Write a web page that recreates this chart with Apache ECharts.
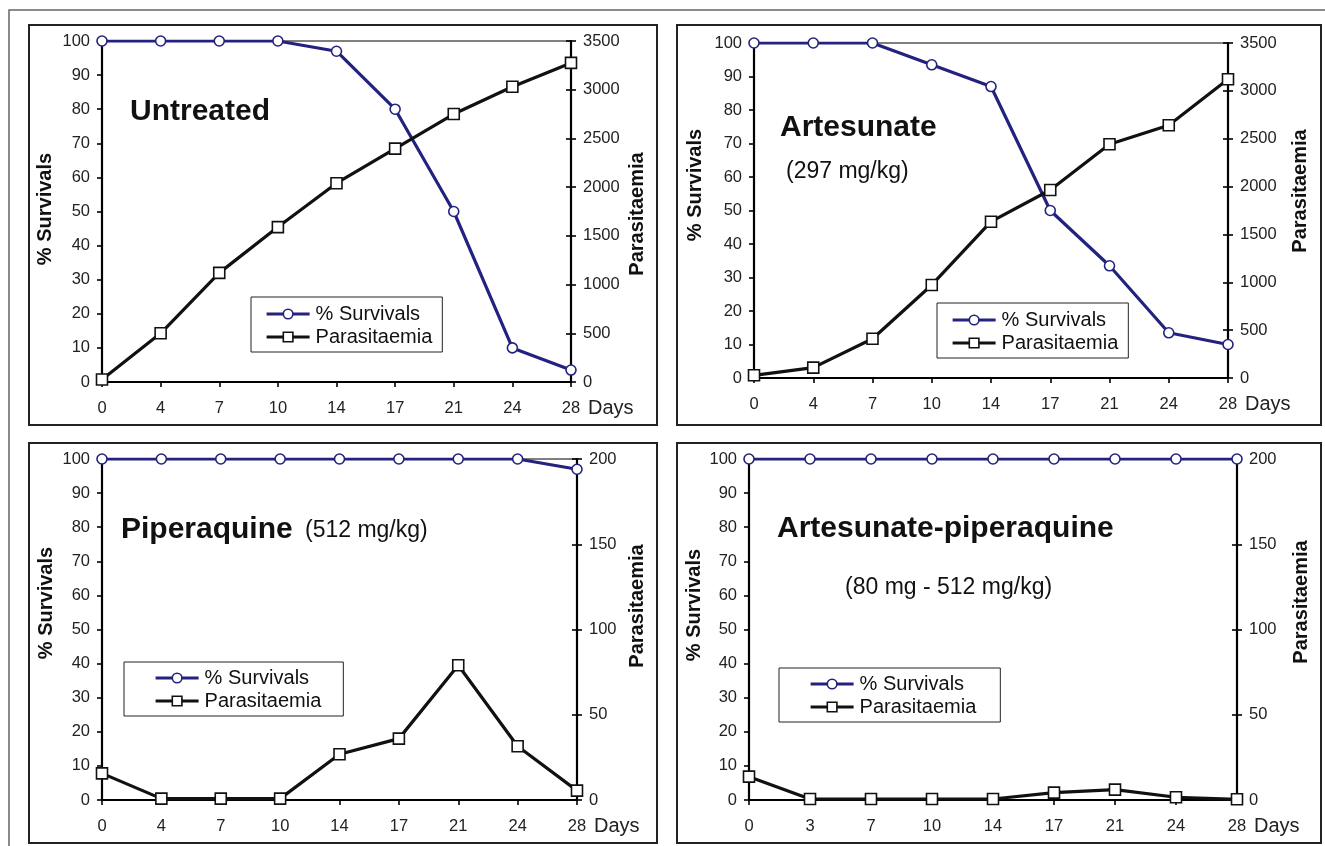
<!DOCTYPE html>
<html>
<head>
<meta charset="utf-8">
<title>Survival and parasitaemia</title>
<script src="https://cdn.jsdelivr.net/npm/echarts@6/dist/echarts.min.js"></script>
<style>
  html, body { margin: 0; padding: 0; background: #fff; }
  #chart { width: 1325px; height: 846px; }
</style>
</head>
<body>
<div id="chart"></div>
<script>
// days sampled (panel 4 has day 3 instead of day 4)
const daysA = ['0', '4', '7', '10', '14', '17', '21', '24', '28']
const daysB = ['0', '3', '7', '10', '14', '17', '21', '24', '28']

// % survivals (left axis)
const untreatedSurv = [100, 100, 100, 100, 97, 80, 50, 10, 3.5]
const artesunateSurv = [100, 100, 100, 93.5, 87, 50, 33.5, 13.5, 10]
const piperaquineSurv = [100, 100, 100, 100, 100, 100, 100, 100, 97]
const comboSurv = [100, 100, 100, 100, 100, 100, 100, 100, 100]

// parasitaemia (right axis)
const untreatedPara = [25, 500, 1120, 1590, 2040, 2395, 2750, 3030, 3275]
const artesunatePara = [28, 108, 410, 972, 1633, 1964, 2442, 2640, 3121]
const piperaquinePara = [15.6, 0.8, 0.8, 0.8, 26.8, 36, 79, 31.5, 5.5]
const comboPara = [13.7, 0.6, 0.6, 0.6, 0.6, 4.3, 6.1, 1.6, 0.4]

const survTicks = { min: 0, max: 100, interval: 10 }
const paraTicksBig = { min: 0, max: 3500, interval: 500 }
const paraTicksSmall = { min: 0, max: 200, interval: 50 }

const NAVY = '#23237f'
const FONT = "'Liberation Sans', Arial, sans-serif"

const panels = [
  {
    days: daysA, surv: untreatedSurv, para: untreatedPara, paraAxis: paraTicksBig,
    grid: { left: 102, top: 41, width: 469, height: 341 },
    box: { x: 29, y: 25, width: 628, height: 400 },
    legend: { left: 251, top: 297, padding: [7, 10, 5, 14] },
    leftName: [45, 209], rightName: [637, 214],
  },
  {
    days: daysA, surv: artesunateSurv, para: artesunatePara, paraAxis: paraTicksBig,
    grid: { left: 754, top: 43, width: 474, height: 335 },
    box: { x: 677, y: 25, width: 644, height: 400 },
    legend: { left: 937, top: 303, padding: [7, 10, 5, 14] },
    leftName: [695, 185], rightName: [1300, 191],
  },
  {
    days: daysA, surv: piperaquineSurv, para: piperaquinePara, paraAxis: paraTicksSmall,
    grid: { left: 102, top: 459, width: 475, height: 341 },
    box: { x: 29, y: 443, width: 628, height: 400 },
    legend: { left: 124, top: 662, padding: [6, 22, 5, 30] },
    leftName: [46, 603], rightName: [637, 606],
  },
  {
    days: daysB, surv: comboSurv, para: comboPara, paraAxis: paraTicksSmall,
    grid: { left: 749, top: 459, width: 488, height: 341 },
    box: { x: 677, y: 443, width: 644, height: 400 },
    legend: { left: 779, top: 668, padding: [6, 24, 5, 30] },
    leftName: [694, 605], rightName: [1301, 602],
  },
]

const chart = echarts.init(document.getElementById('chart'), null, { renderer: 'canvas' })

const grids = []
const xAxes = []
const yAxes = []
const series = []
const legends = []
const graphics = [
  // outer frame of the figure
  { type: 'rect', shape: { x: 9, y: 10, width: 1330, height: 850 }, style: { fill: null, stroke: '#666', lineWidth: 1.5 }, z: 1 },
]

const axisLineStyle = { show: true, lineStyle: { color: '#000', width: 2.2 } }
const tickStyle = { color: '#000', width: 1.6 }
const labelStyle = { fontSize: 16.5, color: '#222', fontFamily: FONT }

panels.forEach((p, i) => {
  grids.push({ ...p.grid, show: true, borderColor: '#000', borderWidth: 1, backgroundColor: 'transparent' })
  xAxes.push({
    type: 'category',
    gridIndex: i,
    data: p.days,
    boundaryGap: false,
    axisLine: axisLineStyle,
    axisTick: { show: true, length: 5, lineStyle: tickStyle },
    axisLabel: { ...labelStyle, margin: 18 },
    splitLine: { show: false },
    name: 'Days',
    nameLocation: 'end',
    nameGap: 17,
    nameTextStyle: { fontSize: 20, color: '#222', fontFamily: FONT, align: 'left', verticalAlign: 'top', padding: [16, 0, 0, 0] },
  })
  const leftIdx = yAxes.length
  yAxes.push({
    type: 'value',
    gridIndex: i,
    position: 'left',
    ...survTicks,
    axisLine: axisLineStyle,
    axisTick: { show: true, length: 5, lineStyle: tickStyle },
    axisLabel: { ...labelStyle, margin: 12 },
    splitLine: { show: false },
  })
  const rightIdx = yAxes.length
  yAxes.push({
    type: 'value',
    gridIndex: i,
    position: 'right',
    ...p.paraAxis,
    axisLine: axisLineStyle,
    axisTick: { show: true, length: 5, lineStyle: tickStyle },
    axisLabel: { ...labelStyle, margin: 12, formatter: (v) => String(v) },
    splitLine: { show: false },
  })
  // inner half of the crossing ticks on the right axis
  yAxes.push({
    type: 'value',
    gridIndex: i,
    position: 'right',
    ...p.paraAxis,
    axisLine: { show: false },
    axisTick: { show: true, inside: true, length: 5, lineStyle: tickStyle },
    axisLabel: { show: false },
    splitLine: { show: false },
  })

  series.push({
    name: '% Survivals',
    type: 'line',
    xAxisIndex: i,
    yAxisIndex: leftIdx,
    data: p.surv,
    symbol: 'circle',
    symbolSize: 10,
    lineStyle: { color: NAVY, width: 3.2 },
    itemStyle: { color: '#fff', borderColor: NAVY, borderWidth: 1.6 },
    z: 3,
    animation: false,
  })
  series.push({
    name: 'Parasitaemia',
    type: 'line',
    xAxisIndex: i,
    yAxisIndex: rightIdx,
    data: p.para,
    symbol: 'rect',
    symbolSize: 11,
    lineStyle: { color: '#111', width: 3.2 },
    itemStyle: { color: '#fff', borderColor: '#111', borderWidth: 1.6 },
    z: 4,
    animation: false,
  })

  legends.push({
    data: ['% Survivals', 'Parasitaemia'],
    orient: 'vertical',
    left: p.legend.left,
    top: p.legend.top,
    padding: p.legend.padding,
    itemGap: 3,
    itemWidth: 43,
    itemHeight: 12,
    backgroundColor: '#fff',
    borderColor: '#222',
    borderWidth: 1,
    selectedMode: false,
    lineStyle: { width: 3.2 },
    itemStyle: { borderWidth: 1.6 },
    textStyle: { fontSize: 20, color: '#111', fontFamily: FONT, padding: [0, 0, 0, 1] },
  })

  // panel frame
  graphics.push({ type: 'rect', shape: p.box, style: { fill: null, stroke: '#222', lineWidth: 2 }, z: 1 })
  // rotated axis titles
  graphics.push({
    type: 'text', x: p.leftName[0], y: p.leftName[1], rotation: Math.PI / 2,
    style: { text: '% Survivals', font: 'bold 20px ' + FONT, fill: '#111', align: 'center', verticalAlign: 'middle' },
  })
  graphics.push({
    type: 'text', x: p.rightName[0], y: p.rightName[1], rotation: Math.PI / 2,
    style: { text: 'Parasitaemia', font: 'bold 20px ' + FONT, fill: '#111', align: 'center', verticalAlign: 'middle' },
  })
})

// panel headings
const headings = [
  { text: 'Untreated', x: 130, y: 112, bold: true },
  { text: 'Artesunate', x: 780, y: 128, bold: true },
  { text: '(297 mg/kg)', x: 786, y: 172, bold: false },
  { text: 'Piperaquine', x: 121, y: 530, bold: true },
  { text: '(512 mg/kg)', x: 305, y: 531, bold: false },
  { text: 'Artesunate-piperaquine', x: 777, y: 529, bold: true },
  { text: '(80 mg - 512 mg/kg)', x: 845, y: 588, bold: false },
]
headings.forEach((h) => {
  graphics.push({
    type: 'text', x: h.x, y: h.y, z: 5,
    style: {
      text: h.text,
      font: (h.bold ? 'bold 30px ' : '23px ') + FONT,
      fill: '#111',
      align: 'left',
      verticalAlign: 'middle',
    },
  })
})

chart.setOption({
  animation: false,
  backgroundColor: '#fff',
  textStyle: { fontFamily: FONT },
  grid: grids,
  xAxis: xAxes,
  yAxis: yAxes,
  legend: legends,
  series: series,
  graphic: graphics,
})
</script>
</body>
</html>
